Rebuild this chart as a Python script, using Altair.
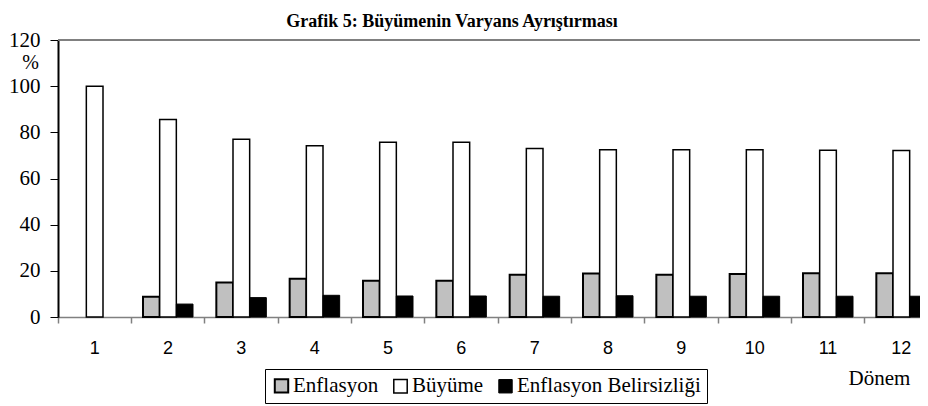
import altair as alt
import pandas as pd

donem = [str(i) for i in range(1, 13)]
series = ["Enflasyon", "Büyüme", "Enflasyon Belirsizliği"]
enflasyon = [0, 8.8, 14.9, 16.6, 15.7, 15.7, 18.3, 18.8, 18.3, 18.6, 18.9, 18.9]
buyume = [100, 85.6, 77.0, 74.2, 75.7, 75.7, 73.0, 72.5, 72.5, 72.5, 72.2, 72.1]
belirsizlik = [0, 5.6, 8.4, 9.4, 9.1, 9.1, 9.0, 9.2, 9.0, 9.0, 9.0, 9.0]
colors = ["#C0C0C0", "#FFFFFF", "#000000"]
stroke_widths = [2, 1, 1]
y_ticks = [0, 20, 40, 60, 80, 100, 120]

rows = []
for name, vals in zip(series, [enflasyon, buyume, belirsizlik]):
    for d, v in zip(donem, vals):
        rows.append({"Dönem": d, "Seri": name, "Değer": v})
df = pd.DataFrame(rows)

SERIF = "Liberation Serif"
SANS = "Liberation Sans"
RANGE_W = 880

bars = alt.Chart(df).mark_bar(stroke="black").encode(
    x=alt.X(
        "Dönem:N",
        sort=donem,
        scale=alt.Scale(range=[0, RANGE_W], paddingInner=0, paddingOuter=0),
        axis=alt.Axis(
            title="Dönem",
            titleFont=SERIF,
            titleFontSize=21,
            titleFontWeight="normal",
            titleColor="black",
            titleX=821,
            titleY=61,
            titleBaseline="middle",
            titleAlign="center",
            labelAngle=0,
            bandPosition=0,
            labelFont=SANS,
            labelFontSize=18,
            labelColor="black",
            labelPadding=16,
            tickSize=6,
            tickColor="#808080",
            tickWidth=1.5,
            domainColor="#808080",
            domainWidth=1.5,
            grid=False,
        ),
    ),
    xOffset=alt.XOffset(
        "Seri:N", sort=series,
        scale=alt.Scale(domain=series, paddingOuter=0.7, paddingInner=0),
    ),
    y=alt.Y(
        "Değer:Q",
        scale=alt.Scale(domain=[0, 120], nice=False),
        axis=alt.Axis(
            values=y_ticks,
            title="%",
            titleAngle=0,
            titleFont=SERIF,
            titleFontSize=20,
            titleFontWeight="normal",
            titleColor="black",
            titleX=-28,
            titleY=22,
            titleAlign="center",
            titleBaseline="middle",
            labelFont=SERIF,
            labelFontSize=21,
            labelColor="black",
            labelPadding=10,
            tickSize=8,
            tickColor="black",
            domainColor="black",
            domainWidth=2,
            grid=False,
        ),
    ),
    color=alt.Color(
        "Seri:N", sort=series,
        scale=alt.Scale(domain=series, range=colors),
        legend=alt.Legend(
            title=None,
            orient="none",
            legendX=207,
            legendY=329,
            direction="horizontal",
            strokeColor="black",
            padding=6,
            labelFont=SERIF,
            labelFontSize=21,
            labelColor="black",
            labelOffset=1,
            labelLimit=0,
            symbolType="square",
            symbolSize=180,
            symbolStrokeColor="black",
            symbolStrokeWidth=1.5,
            columnPadding=11,
        ),
    ),
    strokeWidth=alt.StrokeWidth(
        "Seri:N", sort=series,
        scale=alt.Scale(domain=series, range=stroke_widths),
        legend=None,
    ),
    strokeOpacity=alt.condition(alt.datum["Değer"] > 0, alt.value(1), alt.value(0)),
)

top_line = alt.Chart(pd.DataFrame({"y": [120]})).mark_rule(
    color="#808080", strokeWidth=2
).encode(
    y=alt.Y("y:Q"),
    x=alt.value(0),
    x2=alt.value(RANGE_W),
)

chart = alt.layer(top_line, bars).properties(
    width=862,
    height=277,
    title=alt.TitleParams(
        "Grafik 5: Büyümenin Varyans Ayrıştırması",
        font=SERIF,
        fontSize=18,
        fontWeight="bold",
        color="black",
        anchor="middle",
        dx=-37,
        dy=6,
    ),
    autosize=alt.AutoSizeParams(type="none"),
    padding={"left": 50, "top": 32, "right": 0, "bottom": 88},
).configure_view(stroke=None).configure(background="white")

chart.save("out.html", embed_options={"renderer": "svg", "actions": False})
